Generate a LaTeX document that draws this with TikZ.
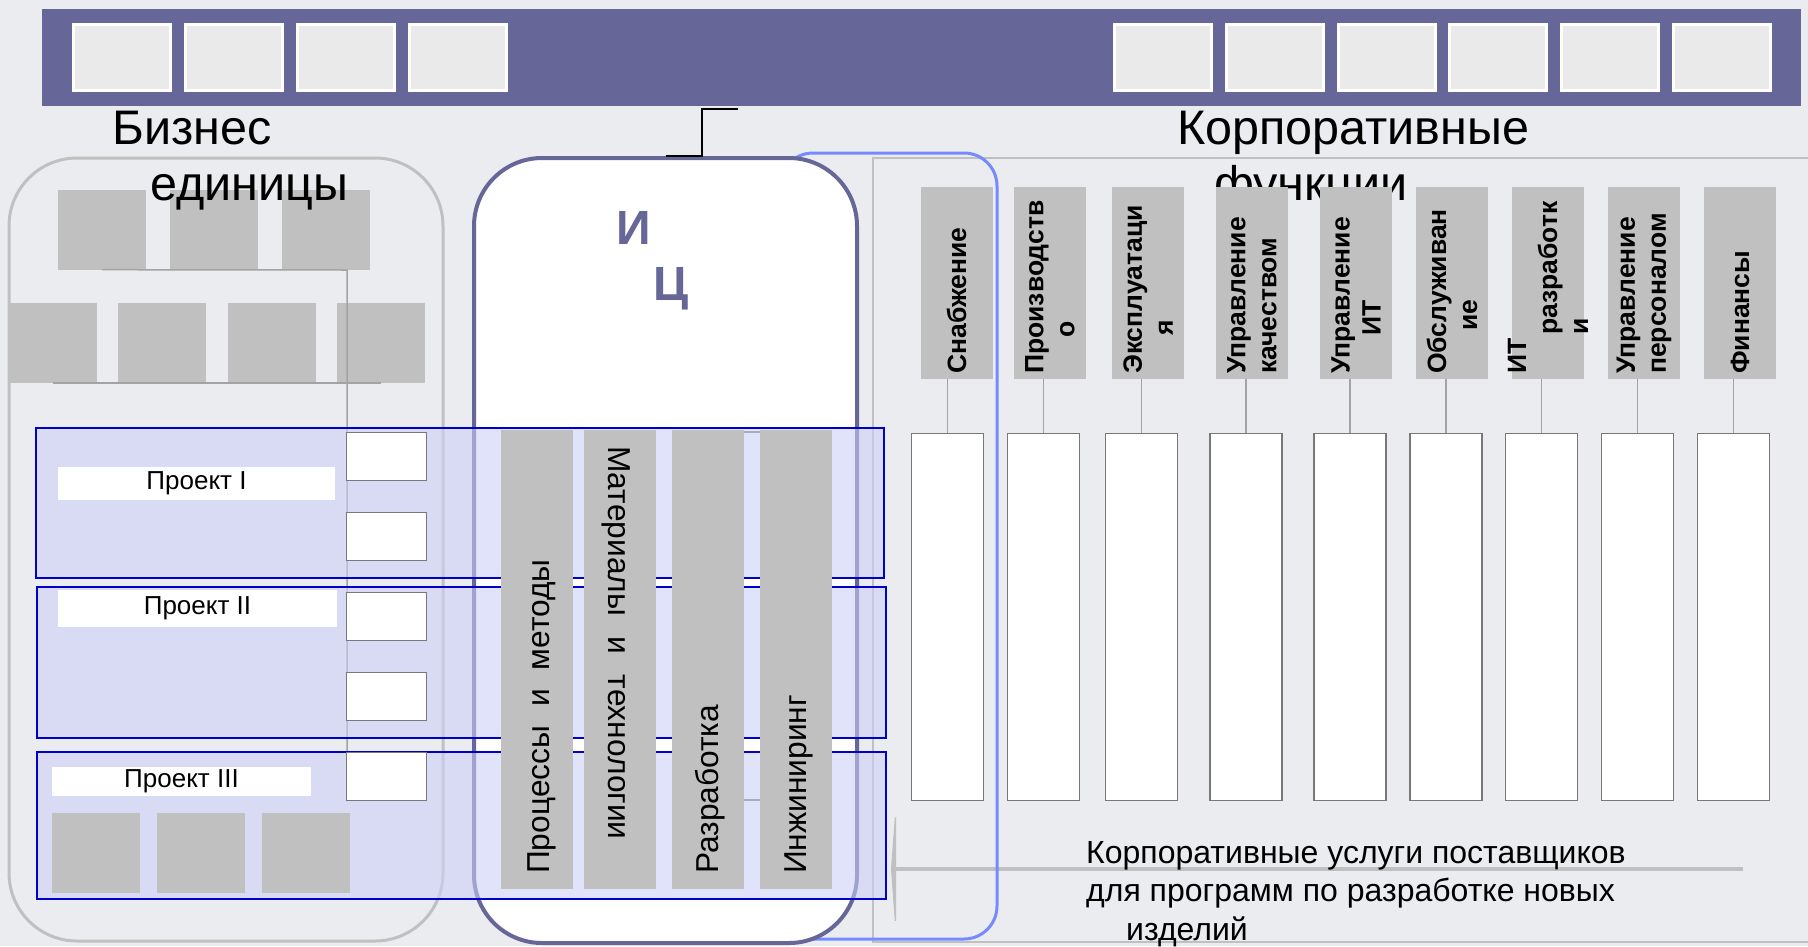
\documentclass[tikz,border=0pt]{standalone}
\usepackage{fontspec}
\setmainfont{Liberation Sans}
\usetikzlibrary{arrows.meta}

\definecolor{bannerblue}{RGB}{102,102,153}
\definecolor{pagegray}{RGB}{235,236,240}
\definecolor{boxgray}{RGB}{192,192,192}
\definecolor{squaregray}{RGB}{234,234,234}
\definecolor{outlinegray}{RGB}{192,192,192}
\definecolor{framegray}{RGB}{120,120,120}
\definecolor{bandblue}{RGB}{0,0,204}
\definecolor{bandfill}{RGB}{203,208,246}
\definecolor{supplyblue}{RGB}{118,138,255}

\begin{document}
\begin{tikzpicture}[x=1pt,y=-1pt,
    bannersq/.style={draw=white,line width=3pt,fill=squaregray,inner sep=0pt,minimum width=97pt,minimum height=66pt},
    unitbox/.style={fill=boxgray,inner sep=0pt,minimum width=88pt,minimum height=80pt},
    slotbox/.style={draw=framegray,line width=1.5pt,fill=white,inner sep=0pt,minimum width=80pt,minimum height=48pt},
    projband/.style={draw=bandblue,line width=2pt,fill=bandfill,fill opacity=0.58},
    projlabel/.style={fill=white,inner sep=0pt,font=\fontsize{26}{30}\selectfont},
    iccol/.style={fill=boxgray,inner sep=0pt,minimum width=72pt,minimum height=459pt},
    coltext/.style={inner sep=0pt,font=\fontsize{31.7}{37}\selectfont},
    headbox/.style={fill=boxgray,inner sep=0pt,minimum width=72pt,minimum height=192pt},
    headtext/.style={inner sep=0pt,rotate=90,anchor=west,align=left,font=\bfseries\fontsize{26.5}{31}\selectfont},
    funcbox/.style={draw=framegray,line width=1.5pt,fill=white,inner sep=0pt,minimum width=72pt,minimum height=367pt},
    bigtitle/.style={inner sep=0pt,anchor=north west,align=left,font=\fontsize{48.5}{56}\selectfont},
    linkline/.style={draw=outlinegray!85!black,line width=1.5pt}]
  \useasboundingbox (0,0) rectangle (1808,946);
  \fill[pagegray] (0,0) rectangle (1808,946);

  % banner
  \fill[bannerblue] (42,9) rectangle (1801,106);
  \foreach \i in {0,...,3}
    \node[bannersq] (bl\i) at (122+112*\i,57.5) {};
  \foreach \i in {0,...,5}
    \node[bannersq] (br\i) at (1163+111.8*\i,57.5) {};

  % business units
  \draw[outlinegray,line width=3pt,rounded corners=68pt] (9,158) rectangle (443,941);
  \foreach \i in {0,1,2}
    \node[unitbox] (ua\i) at (102+112*\i,229.5) {};
  \foreach \i in {0,...,3}
    \node[unitbox] (ub\i) at (52.5+109.5*\i,343) {};
  \coordinate (trunk) at (347,270);
  \coordinate (trunkend) at (347,801);
  \draw[linkline] (ua0.south) -- (trunk) -- (trunkend);
  \draw[linkline] (ub0.south) -- (ub3.south);
  \node[bigtitle] (butitle) at (112,111) {Бизнес\\\hspace*{38pt}единицы};

  % corporate functions
  \draw[outlinegray,line width=2.5pt] (1815,158) -- (873,158) -- (873,942) -- (1815,942);
  \node[bigtitle] (cftitle) at (1177,111) {Корпоративные\\\hspace*{37pt}функции};
  \coordinate (arrR) at (1743,869);
  \coordinate (arrL) at (891,869);
  \draw[outlinegray,line width=4pt,-{Triangle[length=5pt,width=138pt]}] (arrR) -- (arrL);
  \node[inner sep=0pt,anchor=north west,align=left,font=\fontsize{32}{38.5}\selectfont] (svc) at (1086,841)
    {Корпоративные услуги поставщиков\\для программ по разработке новых\\\hspace*{40pt}изделий};

  % supply frame
  \draw[supplyblue,line width=3pt,rounded corners=33pt] (780,153) rectangle (997,939);

  % innovation centre
  \node[draw=bannerblue,line width=4pt,fill=white,rounded corners=68pt,inner sep=0pt,
        minimum width=383pt,minimum height=785pt] (ic) at (665.5,550.5) {};
  \coordinate (brk) at (738,109);
  \draw[black,line width=2pt] (ic.north) -- ++(36,0) |- (brk);
  \node[inner sep=0pt,anchor=north west,align=left,text=bannerblue,font=\bfseries\fontsize{48}{56}\selectfont]
    (ictitle) at (616,211) {И\\\hspace*{37pt}Ц};
  \draw[framegray,line width=1.5pt] (700,432) rectangle (800,800);

  % projects
  \draw[projband] (36,428) rectangle (884,578);
  \draw[projband] (37,587) rectangle (886,738);
  \draw[projband] (37,752) rectangle (886,899);
  \node[projlabel,minimum width=277pt,minimum height=33pt] (p1) at (196.5,483.5) {Проект I};
  \node[projlabel,minimum width=279pt,minimum height=37pt] (p2) at (197.5,608.5) {Проект II};
  \node[projlabel,minimum width=259pt,minimum height=29pt] (p3) at (181.5,781.5) {Проект III};
  \foreach \i in {0,1,2}
    \node[unitbox] (uc\i) at (96+105*\i,853) {};
  \foreach \i in {0,...,4}
    \node[slotbox] (s\i) at (386.5,456.5+80*\i) {};

  % centre columns
  \foreach \i/\cx in {0/537,1/620,2/708,3/796}
    \node[iccol] (c\i) at (\cx,659.5) {};
  \node[coltext,rotate=90,anchor=west] (c0t) at (542,874) {Процессы\hspace{0.6em}и\hspace{0.6em}методы};
  \node[coltext,rotate=-90,anchor=west] (c1t) at (616,446) {Материалы\hspace{0.65em}и\hspace{0.65em}технологии};
  \node[coltext,rotate=90,anchor=west] (c2t) at (710,874) {Разработка};
  \node[coltext,rotate=90,anchor=west] (c3t) at (799,874) {Инжиниринг};

  % function headers
  \foreach \hx/\wx/\txt [count=\i] in {
      956.5/947.5/{Снабжение},
      1050/1043.5/{Производств\\\hspace*{36pt}о},
      1148/1141.5/{Эксплуатаци\\\hspace*{38pt}я},
      1252/1246/{Управление\\качеством},
      1356/1350/{Управление\\\hspace*{38pt}ИТ},
      1452/1446/{Обслуживан\\\hspace*{43pt}ие},
      1548/1541.5/{ИТ\\\hspace*{39pt}разработк\\\hspace*{39pt}и},
      1644/1637.5/{Управление\\персоналом},
      1740/1733.5/{Финансы}}
  {
    \node[headbox] (h\i) at (\hx,283) {};
    \node[headtext] (ht\i) at (\hx,374) {\txt};
    \node[funcbox] (f\i) at (\wx,617) {};
    \draw[linkline] (f\i.north) -- (f\i.north |- h\i.south);
  }
\end{tikzpicture}
\end{document}
